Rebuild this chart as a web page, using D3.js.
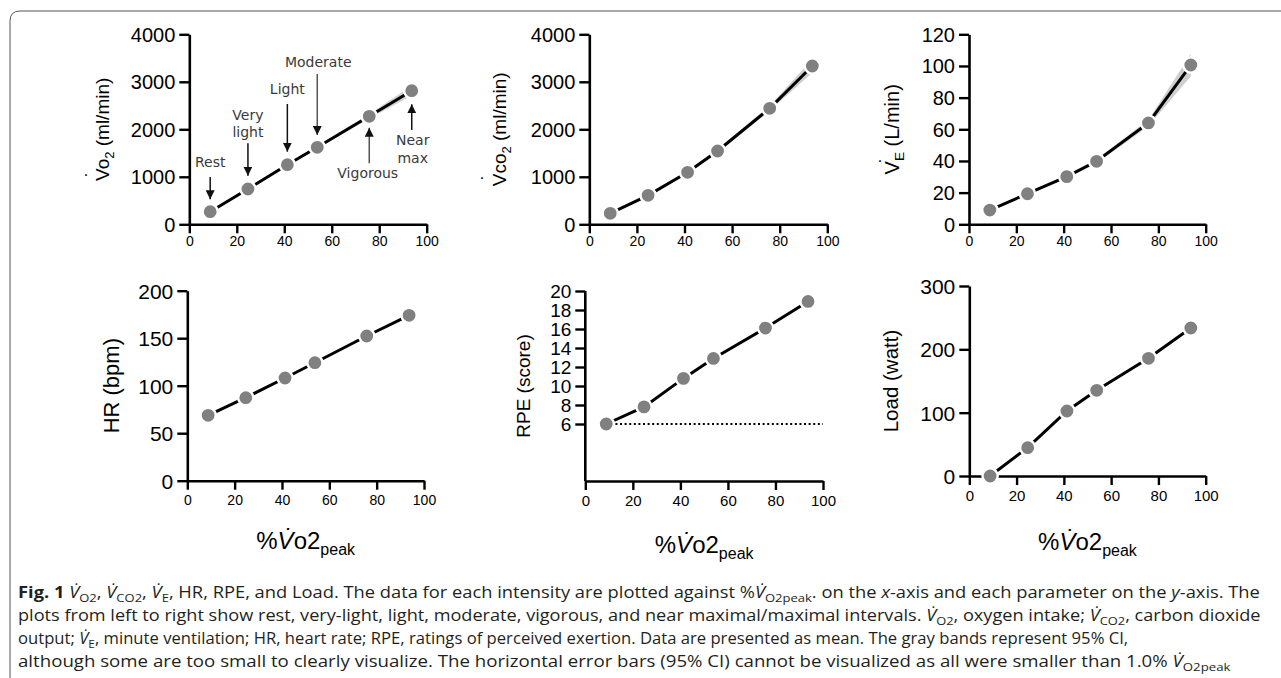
<!DOCTYPE html>
<html><head><meta charset="utf-8">
<script src="https://cdn.jsdelivr.net/npm/d3@7"></script>
<style>body{margin:0;background:#fff} svg{display:block}</style>
</head><body><svg id="c" width="1281" height="678"></svg>
<script>
// ---------------- DATA ----------------
const intensities = ["Rest", "Very light", "Light", "Moderate", "Vigorous", "Near max"];
const pctVO2peak = [8.8, 24.7, 41.3, 53.9, 75.8, 93.7];
const vo2 = [265, 743, 1255, 1621, 2274, 2813];
const vo2Lo = [250, 722, 1228, 1588, 2228, 2710];
const vo2Hi = [280, 764, 1282, 1654, 2320, 2915];
const vco2 = [232, 610, 1095, 1543, 2442, 3333];
const vco2Lo = [218, 588, 1062, 1500, 2390, 3190];
const vco2Hi = [246, 632, 1128, 1586, 2494, 3475];
const ve = [9.0, 19.3, 30.1, 39.8, 64.0, 100.6];
const veLo = [8.6, 18.6, 29.1, 38.5, 62.0, 93.5];
const veHi = [9.4, 20.0, 31.1, 41.1, 66.0, 107.5];
const hr = [68.8, 87.4, 108.1, 124.2, 152.3, 174.1];
const rpe = [6.0, 7.8, 10.8, 12.9, 16.1, 18.9];
const load = [0, 44.7, 102.6, 135.3, 185.8, 233.7];
const rpeBaseline = 6;

const xTicks = [0, 20, 40, 60, 80, 100];
const vo2Ticks = [0, 1000, 2000, 3000, 4000];
const vco2Ticks = [0, 1000, 2000, 3000, 4000];
const veTicks = [0, 20, 40, 60, 80, 100, 120];
const hrTicks = [0, 50, 100, 150, 200];
const rpeTicks = [6, 8, 10, 12, 14, 16, 18, 20];
const loadTicks = [0, 100, 200, 300];

// ---------------- LAYOUT ----------------
const svg = d3.select("#c");
const FONT = "'Liberation Sans', Arial, sans-serif";
const fmt = d3.format("d");

// frame
svg.append("path")
  .attr("d", "M10,690 L10,21 Q10,11 20,11 L1290,11")
  .attr("fill", "none").attr("stroke", "#555").attr("stroke-width", 1);

const panels = [
  {y: vo2, lo: vo2Lo, hi: vo2Hi, ticks: vo2Ticks, dom: [0, 4000], L: 189.3, R: 426.7, T: 34.3, B: 224.3,
   yfs: 20, xfs: 14, xpad: 3, title: [["V",""],["o",""],["2","s"],[" (ml/min)",""]], tfs: 19, tx: 109, dot: [86, 174]},
  {y: vco2, lo: vco2Lo, hi: vco2Hi, ticks: vco2Ticks, dom: [0, 4000], L: 589.3, R: 827.3, T: 34.3, B: 224.3,
   yfs: 20, xfs: 14, xpad: 3, title: [["V",""],["co",""],["2","s"],[" (ml/min)",""]], tfs: 19, tx: 506, dot: [482, 177]},
  {y: ve, lo: veLo, hi: veHi, ticks: veTicks, dom: [0, 120], L: 969, R: 1205.7, T: 34.3, B: 224.3,
   yfs: 20, xfs: 14, xpad: 3, title: [["V",""],["E","s"],[" (L/min)",""]], tfs: 20, tx: 899, dot: [880, 160]},
  {y: hr, ticks: hrTicks, dom: [0, 200], L: 187.3, R: 424, T: 290.7, B: 480.7,
   yfs: 21, xfs: 14, xpad: 5, title: [["HR (bpm)",""]], tfs: 22, tx: 119, xt: 549},
  {y: rpe, ticks: rpeTicks, dom: [0, 20], L: 585.3, R: 823, T: 291, B: 481, rpe: true,
   yfs: 19, xfs: 15, xpad: 5, title: [["RPE (score)",""]], tfs: 19, tx: 530, xt: 553},
  {y: load, ticks: loadTicks, dom: [0, 300], L: 969.3, R: 1205.7, T: 286, B: 476,
   yfs: 21, xfs: 15, xpad: 5, title: [["Load (watt)",""]], tfs: 20.5, tx: 898, xt: 550}
];

// arrow marker
const defs = svg.append("defs");
defs.append("marker").attr("id", "ah").attr("viewBox", "0 0 10 10")
  .attr("refX", 10).attr("refY", 5).attr("markerWidth", 9).attr("markerHeight", 9)
  .attr("markerUnits", "userSpaceOnUse").attr("orient", "auto")
  .append("path").attr("d", "M0,0 L10,5 L0,10 Z").attr("fill", "#111");

panels.forEach((p, pi) => {
  const g = svg.append("g");
  const x = d3.scaleLinear().domain([0, 100]).range([p.L, p.R]);
  const y = d3.scaleLinear().domain(p.dom).range([p.B, p.T]);

  // axes
  const xa = g.append("g").attr("transform", `translate(0,${p.B})`)
    .call(d3.axisBottom(x).tickValues(xTicks).tickFormat(fmt).tickSize(9).tickSizeOuter(0).tickPadding(p.xpad));
  const ya = g.append("g").attr("transform", `translate(${p.L},0)`)
    .call(d3.axisLeft(y).tickValues(p.ticks).tickFormat(fmt).tickSize(10).tickSizeOuter(0).tickPadding(4));
  [xa, ya].forEach(a => {
    a.attr("font-family", FONT);
    a.select(".domain").attr("stroke", "#000").attr("stroke-width", 2.6);
    a.selectAll(".tick line").attr("stroke", "#000").attr("stroke-width", 2.4);
    a.selectAll("text").attr("fill", "#000").attr("font-family", FONT);
  });
  xa.selectAll("text").attr("font-size", p.xfs);
  ya.selectAll("text").attr("font-size", p.yfs).attr("dy", "0.35em");
  if (p.rpe) {
    ya.select(".domain").attr("d", `M0,${p.T}V${p.B}`);
  }

  // y title
  const cy = (p.T + p.B) / 2;
  const tt = g.append("text").attr("transform", `translate(${p.tx},${cy}) rotate(-90)`)
    .attr("text-anchor", "middle").attr("font-family", FONT).attr("font-size", p.tfs).attr("fill", "#000");
  let shifted = false;
  p.title.forEach(([t, s]) => {
    const ts = tt.append("tspan").text(t);
    if (s === "s") { ts.attr("font-size", p.tfs * 0.68).attr("dy", 5); shifted = true; }
    else if (shifted) { ts.attr("dy", -5); shifted = false; }
  });
  if (p.dot) {
    g.append("text").attr("x", p.dot[0]).attr("y", p.dot[1] + 1.5).attr("text-anchor", "middle")
      .attr("font-family", FONT).attr("font-size", 16).attr("fill", "#000").text(".");
  }

  // x title (bottom row)
  if (p.xt) {
    const xt = g.append("text").attr("x", (p.L + p.R) / 2).attr("y", p.xt).attr("text-anchor", "middle")
      .attr("font-family", FONT).attr("font-size", 24).attr("fill", "#000");
    xt.append("tspan").text("%");
    xt.append("tspan").attr("font-style", "italic").text("V\u0307");
    xt.append("tspan").text("o2");
    xt.append("tspan").attr("font-size", 16).attr("dy", 6).text("peak");
  }

  // CI band
  if (p.lo) {
    const area = d3.area().x((d, i) => x(pctVO2peak[i])).y0((d, i) => y(p.lo[i])).y1((d, i) => y(p.hi[i]));
    g.append("path").datum(p.y).attr("d", area).attr("fill", "#cfcfcf");
  }
  // RPE dotted baseline
  if (p.rpe) {
    g.append("line").attr("x1", x(pctVO2peak[0])).attr("x2", x(100))
      .attr("y1", y(rpeBaseline)).attr("y2", y(rpeBaseline))
      .attr("stroke", "#000").attr("stroke-width", 2).attr("stroke-dasharray", "2,2.6");
  }
  // line
  const line = d3.line().x((d, i) => x(pctVO2peak[i])).y(d => y(d));
  g.append("path").datum(p.y).attr("d", line).attr("fill", "none")
    .attr("stroke", "#000").attr("stroke-width", 3);
  // points
  g.selectAll("circle.pt").data(p.y).join("circle").attr("class", "pt")
    .attr("cx", (d, i) => x(pctVO2peak[i])).attr("cy", d => y(d)).attr("r", 7.6)
    .attr("fill", "#808080").attr("stroke", "#fff").attr("stroke-width", 2.4);

  // annotations (panel 1)
  if (pi === 0) {
    const ann = [
      {dir: -1, tip: 12.4, tail: 34.7, lab: [[intensities[0], -45]], dx: 0},
      {dir: -1, tip: 13.3, tail: 45.7, lab: [["Very", -69.5], ["light", -52]], dx: 0},
      {dir: -1, tip: 13, tail: 60.7, lab: [[intensities[2], -70.5]], dx: 0},
      {dir: -1, tip: 12.3, tail: 73.3, lab: [[intensities[3], -80]], dx: 1},
      {dir: 1, tip: 11.4, tail: 47, lab: [[intensities[4], 62]], dx: -1.5},
      {dir: 1, tip: 13.6, tail: 39.3, lab: [["Near", 54], ["max", 72]], dx: 1}
    ];
    ann.forEach((a, i) => {
      const px = x(pctVO2peak[i]), py = y(p.y[i]);
      g.append("line").attr("x1", px).attr("x2", px)
        .attr("y1", py + a.dir * a.tail).attr("y2", py + a.dir * a.tip)
        .attr("stroke", i === 3 || i === 4 ? "#555" : "#111").attr("stroke-width", 1.5)
        .attr("marker-end", "url(#ah)");
      a.lab.forEach(([t, dy]) => {
        g.append("text").attr("x", px + a.dx).attr("y", py + dy).attr("text-anchor", "middle")
          .attr("font-family", "'DejaVu Sans', Verdana, sans-serif").attr("font-size", 14)
          .attr("fill", "#3a3a3a").text(t);
      });
    });
  }
});

// ---------------- CAPTION ----------------
const captionLines = [
  "{b:Fig. 1}  {V}{s:O2}, {V}{s:CO2}, {V}{s:E}, HR, RPE, and Load. The data for each intensity are plotted against %{V}{s:O2peak}. on the {i:x}-axis and each parameter on the {i:y}-axis. The",
  "plots from left to right show rest, very-light, light, moderate, vigorous, and near maximal/maximal intervals. {V}{s:O2}, oxygen intake; {V}{s:CO2}, carbon dioxide",
  "output; {V}{s:E}, minute ventilation; HR, heart rate; RPE, ratings of perceived exertion. Data are presented as mean. The gray bands represent 95% CI,",
  "although some are too small to clearly visualize. The horizontal error bars (95% CI) cannot be visualized as all were smaller than 1.0% {V}{s:O2peak}"
];
const capBase = [598, 621, 644, 667];
const capRight = [1261, 1262, 1129, 1232];
const capLeft = 18;
const CAPFONT = "'Open Sans', 'Noto Sans', sans-serif";

captionLines.forEach((ln, li) => {
  const t = svg.append("text").attr("x", 0).attr("y", 0)
    .attr("font-family", CAPFONT).attr("font-size", 15.5).attr("fill", "#231f20");
  const parts = ln.split(/(\{[^}]*\})/).filter(s => s.length);
  let down = false;
  parts.forEach(s => {
    let ts;
    if (s === "{V}") {
      ts = t.append("tspan").attr("font-style", "italic").text("V\u0307");
    } else if (s.startsWith("{s:")) {
      ts = t.append("tspan").attr("font-size", 11).text(s.slice(3, -1));
      if (!down) { ts.attr("dy", 4); down = true; }
      return;
    } else if (s.startsWith("{b:")) {
      ts = t.append("tspan").attr("font-weight", "bold").text(s.slice(3, -1));
    } else if (s.startsWith("{i:")) {
      ts = t.append("tspan").attr("font-style", "italic").text(s.slice(3, -1));
    } else {
      ts = t.append("tspan").text(s);
    }
    if (down) { ts.attr("dy", -4); down = false; }
  });
  const w = t.node().getBBox().width;
  const sx = (capRight[li] - capLeft) / w;
  t.attr("transform", `translate(${capLeft},${capBase[li]}) scale(${sx},1)`);
});
</script>
</body></html>
